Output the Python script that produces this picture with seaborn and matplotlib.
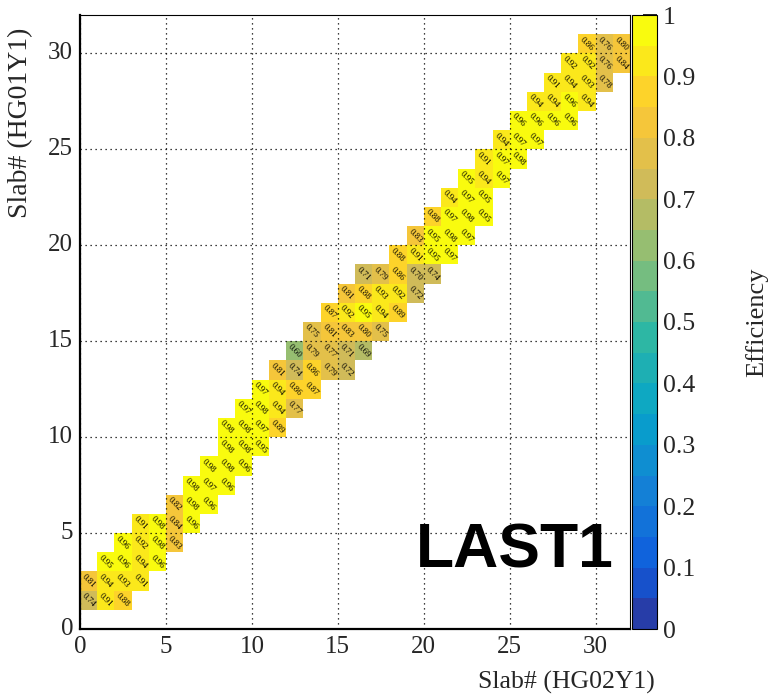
import numpy as np
import pandas as pd
import matplotlib
matplotlib.use("Agg")
import matplotlib.pyplot as plt
from matplotlib.colors import LinearSegmentedColormap, ListedColormap
from matplotlib.ticker import MultipleLocator, FormatStrFormatter
import seaborn as sns

# ---- data: efficiency per (HG02Y1 slab, HG01Y1 slab) cell ----
n_slabs = 32
row_slab = list(range(1, 31))                       # HG01Y1 slab of each row
row_first = [0, 0, 1, 2, 3, 5, 6, 7, 8, 8,
             9, 10, 11, 12, 13, 14, 15, 16, 18, 19,
             20, 21, 22, 23, 24, 25, 26, 27, 28, 29]  # first HG02Y1 slab filled in the row
row_eff = [
    [0.74, 0.91, 0.88],
    [0.81, 0.94, 0.93, 0.91],
    [0.95, 0.96, 0.94, 0.96],
    [0.96, 0.92, 0.98, 0.83],
    [0.91, 0.98, 0.84, 0.96],
    [0.82, 0.98, 0.96],
    [0.98, 0.97, 0.96],
    [0.98, 0.98, 0.96],
    [0.98, 0.98, 0.95],
    [0.98, 0.98, 0.97, 0.89],
    [0.97, 0.98, 0.94, 0.77],
    [0.97, 0.94, 0.86, 0.87],
    [0.81, 0.74, 0.86, 0.79, 0.72],
    [0.60, 0.79, 0.77, 0.71, 0.69],
    [0.75, 0.81, 0.83, 0.80, 0.75],
    [0.87, 0.92, 0.95, 0.94, 0.89],
    [0.81, 0.88, 0.93, 0.92, 0.72],
    [0.71, 0.79, 0.86, 0.70, 0.74],
    [0.88, 0.91, 0.95, 0.97],
    [0.83, 0.95, 0.98, 0.97],
    [0.88, 0.97, 0.98, 0.95],
    [0.94, 0.97, 0.95],
    [0.95, 0.94, 0.97],
    [0.91, 0.97, 0.98],
    [0.94, 0.97, 0.97],
    [0.96, 0.96, 0.96, 0.96],
    [0.94, 0.94, 0.96, 0.94],
    [0.91, 0.94, 0.93, 0.78],
    [0.92, 0.92, 0.76, 0.84],
    [0.86, 0.76, 0.80],
]
cbar_ticks = [0.0, 0.1, 0.2, 0.3, 0.4, 0.5, 0.6, 0.7, 0.8, 0.9, 1.0]
cbar_labels = ["0", "0.1", "0.2", "0.3", "0.4", "0.5", "0.6", "0.7", "0.8", "0.9", "1"]

grid = np.full((n_slabs, n_slabs), np.nan)
for y, x0, vals in zip(row_slab, row_first, row_eff):
    grid[y, x0:x0 + len(vals)] = vals
table = pd.DataFrame(grid)

# ---- ROOT "bird" palette, 20 contour levels ----
stops = [0.0, 0.125, 0.25, 0.375, 0.5, 0.625, 0.75, 0.875, 1.0]
red = [0.2082, 0.0592, 0.0780, 0.0232, 0.1802, 0.5301, 0.8186, 0.9956, 0.9764]
green = [0.1664, 0.3599, 0.5041, 0.6419, 0.7178, 0.7492, 0.7328, 0.7862, 0.9832]
blue = [0.5293, 0.8684, 0.8385, 0.7914, 0.6425, 0.4662, 0.3499, 0.1968, 0.0539]
bird = LinearSegmentedColormap.from_list(
    "bird", list(zip(stops, zip(red, green, blue))))
n_levels = 20
bands = ListedColormap(bird(np.clip((np.arange(n_levels) + 0.99) / n_levels, 0, 1)))

sns.set_style("white")
plt.rcParams["font.family"] = ["Liberation Serif", "DejaVu Serif"]

W, H = 768, 699
fig = plt.figure(figsize=(W / 100, H / 100), dpi=100)
ax = fig.add_axes([80 / W, 70 / H, 550 / W, 614 / H])
cax = fig.add_axes([632 / W, 70 / H, 25 / W, 614 / H])

sns.heatmap(table, ax=ax, cbar_ax=cax, cmap=bands, vmin=0, vmax=1,
            annot=True, fmt=".2f",
            annot_kws=dict(rotation=-45, fontsize=6.5, color="black"))

ax.set_xlim(0, n_slabs)
ax.set_ylim(0, n_slabs)

for side in ["left", "bottom", "top", "right"]:
    ax.spines[side].set_visible(True)
    ax.spines[side].set_color("black")
ax.spines["left"].set_linewidth(1.6)
ax.spines["bottom"].set_linewidth(1.6)
ax.spines["top"].set_linewidth(0.8)
ax.spines["right"].set_linewidth(0.8)

for axis in (ax.xaxis, ax.yaxis):
    axis.set_major_locator(MultipleLocator(5))
    axis.set_minor_locator(MultipleLocator(1))
    axis.set_major_formatter(FormatStrFormatter("%d"))
ax.tick_params(which="both", direction="in", color="black", width=1.2,
               top=False, right=False, labelsize=18, labelrotation=0)
ax.tick_params(which="major", length=12)
ax.tick_params(which="minor", length=6)
ax.tick_params(axis="x", pad=5)
ax.tick_params(axis="y", pad=5)

ax.grid(True, which="major", color="black", linestyle=(0, (1, 3)), linewidth=0.9)
ax.set_axisbelow(False)

ax.set_xlabel("Slab# (HG02Y1)", fontsize=18.5, ha="right")
ax.xaxis.set_label_coords(1.045, -0.068)
ax.set_ylabel("Slab# (HG01Y1)", fontsize=20, ha="right")
ax.yaxis.set_label_coords(-0.085, 0.979)

ax.text(25.3, 3.2, "LAST1", fontsize=45, fontweight="bold",
        family="Liberation Sans", ha="center", va="baseline", color="black")

cbar = ax.collections[0].colorbar
cbar.set_ticks(cbar_ticks)
cbar.set_ticklabels(cbar_labels)
cbar.outline.set_linewidth(0.8)
cbar.outline.set_edgecolor("black")
cax.tick_params(direction="in", length=10, width=1.2, color="black",
                labelsize=18.5, pad=4, right=True, left=False)
fig.text(757 / W, 1 - 322 / H, "Efficiency", rotation=90, fontsize=19,
         ha="center", va="center")

fig.savefig("out.png", dpi=100)
